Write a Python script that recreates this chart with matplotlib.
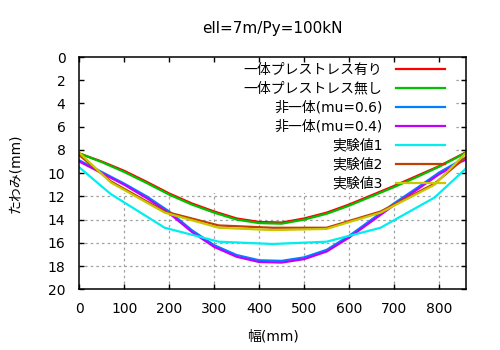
import matplotlib
matplotlib.use("Agg")
import matplotlib.pyplot as plt
from matplotlib.patches import Rectangle

plt.rcParams['font.family'] = ['DejaVu Sans', 'Noto Sans CJK JP']

# analytical curves
x_calc = [0, 50, 100, 150, 200, 250, 300, 350, 400, 450, 500, 550, 600, 650, 700, 750, 800, 850, 860]
ps_on = [8.3, 9.0, 9.8, 10.75, 11.75, 12.6, 13.3, 13.9, 14.2, 14.25, 13.9, 13.4, 12.7, 11.9, 11.1, 10.25, 9.4, 8.4, 8.2]
ps_off = [8.3, 9.05, 9.9, 10.85, 11.85, 12.7, 13.4, 14.0, 14.3, 14.35, 14.0, 13.5, 12.8, 12.0, 11.2, 10.35, 9.45, 8.45, 8.25]
mu06 = [8.9, 9.9, 10.9, 12.0, 13.3, 14.9, 16.2, 17.05, 17.5, 17.55, 17.25, 16.6, 15.4, 14.0, 12.6, 11.3, 9.95, 8.85, 8.7]
mu04 = [9.0, 10.0, 11.0, 12.15, 13.45, 15.05, 16.35, 17.2, 17.65, 17.7, 17.4, 16.75, 15.55, 14.15, 12.75, 11.45, 10.1, 9.0, 8.85]

# measured values
x_exp = [0, 70, 190, 310, 430, 550, 670, 790, 860]
exp1 = [9.5, 11.8, 14.7, 15.9, 16.1, 15.9, 14.7, 12.1, 9.6]
exp2 = [8.45, 10.7, 13.3, 14.5, 14.7, 14.7, 13.3, 10.9, 8.6]
exp3 = [8.25, 10.8, 13.4, 14.7, 14.9, 14.8, 13.4, 11.0, 8.25]

labels = ['一体プレストレス有り', '一体プレストレス無し', '非一体(mu=0.6)', '非一体(mu=0.4)',
          '実験値1', '実験値2', '実験値3']
colors = ['#ff0000', '#00c000', '#0080ff', '#c000ff', '#00eeee', '#c04000', '#c8c800']

xticks = list(range(0, 900, 100))
yticks = list(range(0, 22, 2))

fig = plt.figure(figsize=(5, 3.5), dpi=100)
ax = fig.add_axes([0.1586, 0.1734, 0.7734, 0.6637])

# gnuplot-like dotted grid, hidden behind the key area
for t in xticks[1:]:
    ax.axvline(t, color='#a0a0a0', lw=0.9, ls=(0, (2, 2.5)), zorder=0.5)
for t in yticks[1:-1]:
    ax.axhline(t, color='#a0a0a0', lw=0.9, ls=(0, (2, 2.5)), zorder=0.5)
ax.add_patch(Rectangle((0, 0), 835, 11.7, facecolor='white', edgecolor='none', zorder=1))

series = [(x_calc, ps_on), (x_calc, ps_off), (x_calc, mu06), (x_calc, mu04),
          (x_exp, exp1), (x_exp, exp2), (x_exp, exp3)]
for (xs, ys), lab, c in zip(series, labels, colors):
    ax.plot(xs, ys, color=c, lw=1.6, label=lab, zorder=2)

ax.set_xlim(0, 860)
ax.set_ylim(20, 0)
ax.set_xticks(xticks)
ax.set_yticks(yticks)
ax.tick_params(direction='in', length=3.6, width=1, top=True, right=True, labelsize=10)
ax.tick_params(axis='y', pad=10)
ax.tick_params(axis='x', pad=9)
for s in ax.spines.values():
    s.set_linewidth(1.1)

fig.text(0.545, 0.92, 'ell=7m/Py=100kN', fontsize=11, ha='center', va='center')
ax.set_xlabel('幅(mm)', fontsize=10, va='center')
ax.set_ylabel('たわみ(mm)', fontsize=10, va='center')
ax.xaxis.set_label_coords(0.5, -0.205)
ax.yaxis.set_label_coords(-0.166, 0.5)

ax.legend(loc='upper right', bbox_to_anchor=(0.9457, 0.975), markerfirst=False, frameon=False,
          borderaxespad=0, borderpad=0, handlelength=3.5, handletextpad=1.0,
          labelspacing=0.36, fontsize=10)

fig.savefig('out.png', dpi=100)
